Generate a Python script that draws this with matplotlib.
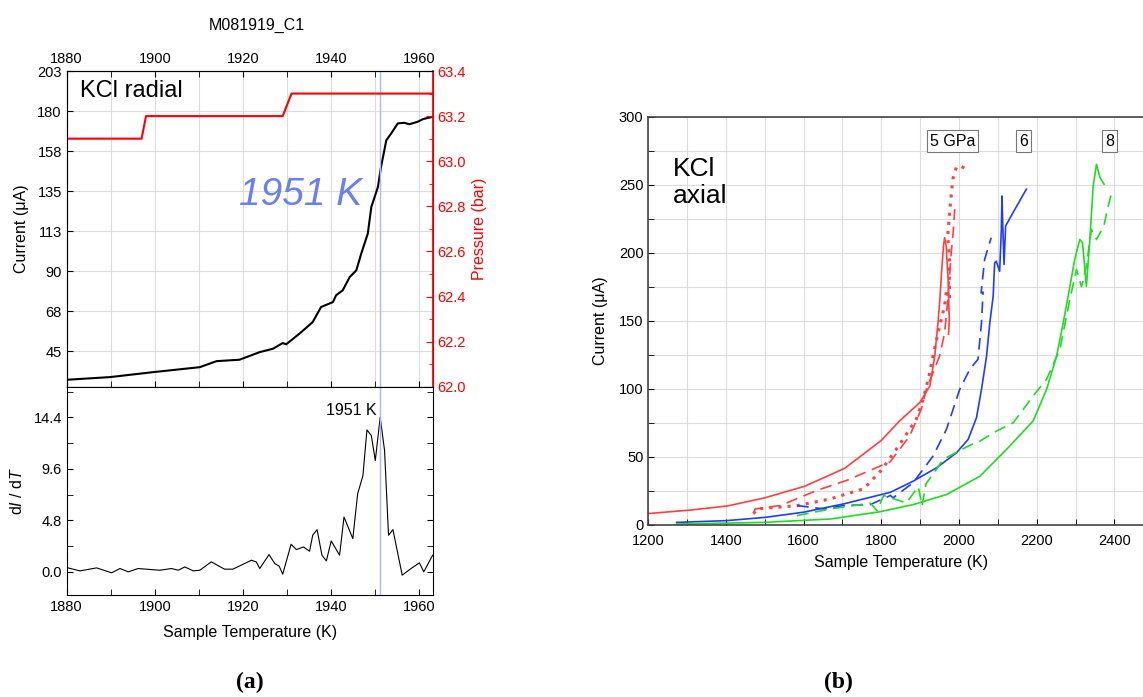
import numpy as np
import matplotlib
matplotlib.use('Agg')
import matplotlib.pyplot as plt
from matplotlib.ticker import MultipleLocator, FormatStrFormatter

plt.rcParams['font.family'] = ['Liberation Sans', 'DejaVu Sans']
plt.rcParams['mathtext.fontset'] = 'custom'
plt.rcParams['mathtext.rm'] = 'Liberation Sans'
plt.rcParams['mathtext.it'] = 'Liberation Sans:italic'

# (a) 上段: 電流と圧力
T_cur = [1880, 1889.8, 1899.6, 1910.2, 1914, 1919.2, 1923.8, 1926.8, 1929, 1929.8, 1932.8,
         1935.8, 1937.7, 1940.4, 1941.1, 1942.6, 1944.2, 1945.7, 1946.8, 1948.3, 1949.1,
         1950.6, 1951.3, 1952.5, 1953.6, 1955.1, 1956.6, 1957.7, 1959.6, 1960.8, 1963]
I_cur = [29.0, 30.5, 33.3, 36.1, 39.5, 40.3, 44.6, 46.5, 49.7, 49.0, 55,
         61.5, 70, 72.8, 76.6, 79.4, 86.9, 90.7, 100, 111.4, 126.4,
         137.7, 149, 164, 167.8, 173.5, 173.8, 173, 174.4, 175.9, 177.2]
T_p = [1880, 1897, 1898, 1929, 1931, 1963]
P_bar = [63.1, 63.1, 63.2, 63.2, 63.3, 63.3]

# (a) 下段: dI/dT
T_d = [1880, 1883, 1886.8, 1890.2, 1892.1, 1894, 1896.2, 1901.1, 1903.8, 1905.3, 1906.8,
       1908.7, 1910.2, 1912.8, 1915.8, 1917.7, 1921.9, 1923, 1923.8, 1925.9, 1927.2,
       1928.2, 1929, 1930.9, 1932.1, 1933.7, 1935.1, 1935.8, 1936.8, 1937.9, 1938.9,
       1940, 1941.9, 1942.9, 1944.9, 1946, 1947.2, 1948.1, 1949.1, 1950, 1951.1,
       1952.1, 1953, 1954, 1956.1, 1958.1, 1960, 1961, 1963]
dIdT = [0.40, 0.09, 0.37, -0.09, 0.31, 0.0, 0.31, 0.15, 0.31, 0.15, 0.46,
        0.09, 0.15, 0.93, 0.25, 0.25, 1.08, 0.93, 0.31, 1.61, 0.77,
        0.53, -0.22, 2.57, 2.07, 2.32, 1.92, 3.41, 3.93, 1.55, 1.02,
        2.88, 1.55, 5.11, 3.10, 7.28, 8.98, 13.22, 12.70, 10.37, 14.40,
        11.30, 3.41, 3.93, -0.31, 0.31, 0.84, 0.0, 1.55]
T_melt = 1951

# (b) 軸方向
red_solid_T = [1200, 1310, 1404, 1498, 1602, 1706, 1800, 1847, 1899, 1925, 1937.6, 1946,
               1950.5, 1955, 1960, 1963, 1967, 1972, 1975, 1973]
red_solid_I = [8.2, 10.8, 13.8, 19.6, 28.2, 41.5, 62, 76.3, 89.8, 102, 124, 148.8,
               165, 185, 205, 211, 205, 180, 150, 140]
red_dash_T = [1471, 1475, 1540, 1634, 1712, 1823, 1873, 1903, 1916, 1950, 1963, 1972,
              1980, 1985, 1989]
red_dash_I = [8.4, 11.6, 14.1, 25.2, 32.7, 46.3, 65.2, 85, 99.6, 124, 141, 168,
              200, 215, 232]
red_dot_T = [1471, 1480, 1583, 1669, 1755, 1800, 1847, 1890, 1907.5, 1925, 1933, 1946,
             1963, 1968, 1975.7, 1975.7, 1971, 1975.7, 1984, 1993, 2001.5, 2019]
red_dot_I = [8, 11.6, 14, 19, 26.5, 40, 59, 77.5, 92, 112, 124, 141,
             161, 173, 165.4, 195, 212, 229.4, 254, 262.7, 264, 261.5]
blue_solid_T = [1273, 1402, 1501, 1600, 1703, 1823, 1882, 1942, 1993.5, 2023.6, 2045,
                2058, 2071, 2079.5, 2088, 2091.8, 2096, 2104.7, 2109, 2110.7, 2113, 2116,
                2120, 2139, 2173.5]
blue_solid_I = [1.7, 3, 5.4, 9.2, 15.3, 23.8, 32, 41.8, 52.9, 62.7, 78.7,
                99.6, 124, 148.8, 168, 192.5, 193.7, 186.3, 217.1, 241.7, 217, 191.3,
                219.6, 229.4, 246.7]
blue_dash_T = [1583, 1651.5, 1703, 1772, 1823.5, 1830, 1881.7, 1933, 1967.7, 2002, 2028,
               2049, 2058, 2062, 2057, 2066, 2079, 2083]
blue_dash_I = [14.1, 11.6, 14.1, 14.8, 21.5, 19.7, 30.8, 50.4, 70.1, 99.6, 114.4,
               121.7, 148.8, 171, 170.4, 195, 207.4, 211]
green_solid_T = [1273, 1497, 1669, 1796, 1882, 1968, 2054, 2122.5, 2191, 2225.7, 2251.5,
                 2268.7, 2281, 2298, 2311, 2318, 2328, 2337, 2345.5, 2354, 2363, 2373.5]
green_solid_I = [0.5, 1.7, 4.2, 9.5, 14.8, 22.2, 35.7, 55.4, 76.3, 99.6, 124.2,
                 148.8, 168, 195, 209.7, 207.3, 175.3, 209.7, 249, 265, 255.3, 250.4]
green_dash_T = [1583, 1669, 1772, 1789, 1806, 1864.5, 1895, 1905, 1915, 1940, 1959, 2023.6,
                2054, 2097, 2140, 2191, 2225.7, 2260, 2277, 2285, 2302.5, 2315.5, 2328,
                2341, 2354, 2373, 2384, 2393]
green_dash_I = [6.7, 11.6, 15.8, 10.4, 21.5, 16, 28, 14, 30, 40, 48, 57.8,
                61.5, 68.9, 75, 94.7, 107, 129, 153.7, 165, 187.6, 175, 190,
                217, 209.7, 219.6, 234, 244]
box_T = [1983, 2167, 2388]
box_text = ['5 GPa', '6', '8']

red = '#ff4040'
blue = '#1f3cff'
green = '#1edc1e'
gridc = '#dcdcdc'

fig = plt.figure(figsize=(11.43, 6.97), dpi=100)

# ---- (a) 上段
ax1 = fig.add_axes([0.0583, 0.4452, 0.3202, 0.4529])
ax1.set_xlim(1880, 1963)
ax1.set_ylim(25.1, 203)
ax1.set_yticks(np.linspace(45, 203, 8))
ax1.yaxis.set_major_formatter(FormatStrFormatter('%.0f'))
ax1.xaxis.set_major_locator(MultipleLocator(20))
ax1.xaxis.set_minor_locator(MultipleLocator(10))
ax1.tick_params(axis='x', which='both', direction='in', top=True, bottom=True,
                labeltop=True, labelbottom=False, labelsize=10.5, length=4)
ax1.tick_params(axis='y', direction='in', labelsize=10.5, length=4, right=False)
ax1.grid(True, which='both', axis='x', color=gridc, lw=0.8)
ax1.grid(True, which='major', axis='y', color=gridc, lw=0.8)
ax1.set_axisbelow(True)
ax1.plot(T_cur, I_cur, c='k', lw=1.5)
ax1.axvline(T_melt, c='#a8b8ff', lw=1)
ax1.set_ylabel('Current (μA)', fontsize=11.5, labelpad=6)
ax1.text(1883, 192, 'KCl radial', fontsize=17, va='center')
ax1.text(1919, 133, '1951 K', fontsize=28, style='italic', color='#6a7ff0', va='center')
for s in ['left', 'bottom', 'top']:
    ax1.spines[s].set_color('#333333')

ax1b = ax1.twinx()
ax1b.set_ylim(62.0, 63.4)
ax1b.plot(T_p, P_bar, c='#ff0000', lw=1.5)
ax1b.yaxis.set_major_locator(MultipleLocator(0.2))
ax1b.yaxis.set_minor_locator(MultipleLocator(0.1))
ax1b.yaxis.set_major_formatter(FormatStrFormatter('%.1f'))
ax1b.tick_params(axis='y', which='both', direction='in', colors='#ff0000',
                 labelsize=10.5, length=5)
ax1b.tick_params(axis='y', which='minor', length=3)
ax1b.spines['right'].set_color('#ff0000')
ax1b.spines['right'].set_linewidth(1.3)
ax1b.set_ylabel('Pressure (bar)', color='#ff0000', fontsize=11.5, labelpad=4)
fig.text(0.2246, 1 - 25 / 697, 'M081919_C1', ha='center', va='center', fontsize=11.5)

# ---- (a) 下段
ax2 = fig.add_axes([0.0583, 0.1463, 0.3202, 0.2989])
ax2.set_xlim(1880, 1963)
ax2.set_ylim(-2.16, 17.25)
ax2.plot(T_d, dIdT, c='k', lw=0.8)
ax2.axvline(T_melt, c='#a8b8ff', lw=1)
ax2.set_yticks([0.0, 4.8, 9.6, 14.4])
ax2.yaxis.set_major_formatter(FormatStrFormatter('%.1f'))
ax2.yaxis.set_minor_locator(MultipleLocator(2.4))
ax2.xaxis.set_major_locator(MultipleLocator(20))
ax2.xaxis.set_minor_locator(MultipleLocator(10))
ax2.tick_params(which='both', direction='in', right=True, top=False, labelsize=10.5, length=4)
ax2.text(1950.3, 14.3, '1951 K', ha='right', va='bottom', fontsize=11.5)
ax2.set_ylabel(r'd$I$ / d$T$', fontsize=11.5, labelpad=6)
ax2.set_xlabel('Sample Temperature (K)', fontsize=11.5, labelpad=8)
fig.text(250 / 1143, 1 - 682 / 697, '(a)', ha='center', va='center', fontsize=17,
         family='Liberation Serif', weight='bold')

# ---- (b)
ax3 = fig.add_axes([0.5672, 0.2472, 0.4417, 0.5854])
ax3.set_xlim(1200, 2500)
ax3.set_ylim(0, 300)
ax3.xaxis.set_major_locator(MultipleLocator(200))
ax3.xaxis.set_minor_locator(MultipleLocator(100))
ax3.yaxis.set_major_locator(MultipleLocator(50))
ax3.yaxis.set_minor_locator(MultipleLocator(25))
ax3.tick_params(which='both', direction='in', labelsize=10.5, length=4, top=False, right=False)
ax3.tick_params(axis='x', pad=7)
ax3.grid(True, which='both', color=gridc, lw=0.8)
ax3.set_axisbelow(True)
ax3.spines['right'].set_visible(False)
for s in ['left', 'bottom', 'top']:
    ax3.spines[s].set_color('#444444')
    ax3.spines[s].set_linewidth(1.2)
ax3.plot(red_solid_T, red_solid_I, c=red, lw=1.2)
ax3.plot(red_dash_T, red_dash_I, c=red, lw=1.2, ls=(0, (7, 4)))
ax3.plot(red_dot_T, red_dot_I, c=red, lw=2.2, ls=(0, (1, 2)))
ax3.plot(blue_solid_T, blue_solid_I, c=blue, lw=1.2)
ax3.plot(blue_dash_T, blue_dash_I, c=blue, lw=1.2, ls=(0, (7, 4)))
ax3.plot(green_solid_T, green_solid_I, c=green, lw=1.2)
ax3.plot(green_dash_T, green_dash_I, c=green, lw=1.2, ls=(0, (7, 4)))
for t, s in zip(box_T, box_text):
    ax3.text(t, 282, s, ha='center', va='center', fontsize=11.5,
             bbox=dict(boxstyle='square,pad=0.2', fc='white', ec='#777777', lw=0.8))
ax3.text(1264, 270, 'KCl\naxial', fontsize=19, va='top', linespacing=1.15)
ax3.set_ylabel('Current (μA)', fontsize=11.5, labelpad=8)
ax3.set_xlabel('Sample Temperature (K)', fontsize=11.5, labelpad=5)
fig.text(838 / 1143, 1 - 682 / 697, '(b)', ha='center', va='center', fontsize=17,
         family='Liberation Serif', weight='bold')

plt.savefig('out.png', dpi=100)
